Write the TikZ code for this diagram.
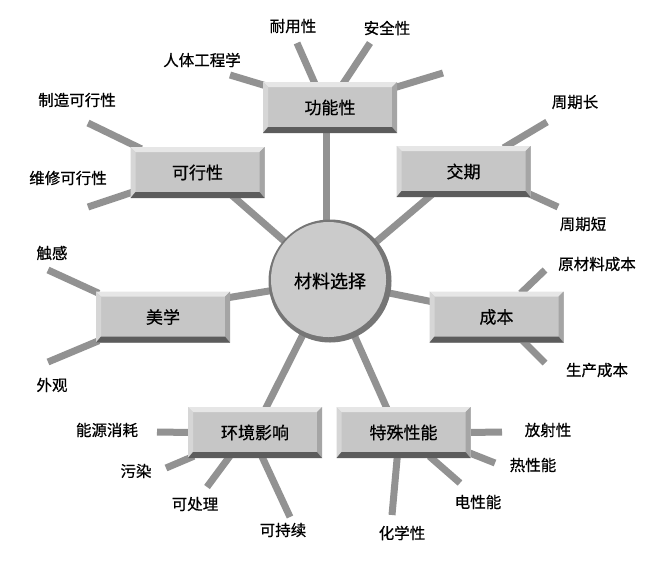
\documentclass[tikz,border=0pt]{standalone}
\usepackage{fontspec}
\setmainfont{Noto Sans CJK SC}[FakeBold=0.6]
\usetikzlibrary{calc}
\pgfdeclarelayer{bg}
\pgfsetlayers{bg,main}
\definecolor{linegray}{RGB}{146,146,146}
\definecolor{face}{RGB}{198,198,198}
\definecolor{bevtop}{RGB}{230,230,230}
\definecolor{bevleft}{RGB}{214,214,214}
\definecolor{bevright}{RGB}{165,165,165}
\definecolor{bevbot}{RGB}{92,92,92}
\definecolor{rim}{RGB}{118,118,118}
\definecolor{disc}{RGB}{203,203,203}
\tikzset{
  conn/.style={line width=7pt, draw=linegray},
  lbl/.style={font=\fontsize{15.5}{17}\selectfont, inner sep=1pt},
  bevbox/.style={minimum width=134pt, minimum height=51pt, inner sep=0pt, fill=face,
    font=\fontsize{17}{19}\selectfont,
    path picture={
      \path (path picture bounding box.north west) coordinate (pnw)
            (path picture bounding box.north east) coordinate (pne)
            (path picture bounding box.south west) coordinate (psw)
            (path picture bounding box.south east) coordinate (pse);
      \fill[bevtop] (pnw) -- (pne) -- ($(pne)+(-5pt,-5pt)$) -- ($(pnw)+(5pt,-5pt)$) -- cycle;
      \fill[bevleft] (pnw) -- ($(pnw)+(5pt,-5pt)$) -- ($(psw)+(5pt,6pt)$) -- (psw) -- cycle;
      \fill[bevright] (pne) -- (pse) -- ($(pse)+(-5pt,6pt)$) -- ($(pne)+(-5pt,-5pt)$) -- cycle;
      \fill[bevbot] (psw) -- ($(psw)+(5pt,6pt)$) -- ($(pse)+(-5pt,6pt)$) -- (pse) -- cycle;
    }},
  hub/.style={circle, minimum size=123pt, inner sep=0pt, fill=rim,
    font=\fontsize{18}{20}\selectfont,
    path picture={
      \fill[disc] ($(path picture bounding box.center)+(-1.5pt,1.5pt)$) circle (57.5pt);
    }}
}
\begin{document}
\begin{tikzpicture}[x=1pt,y=-1pt]
\begin{pgfonlayer}{bg}
\fill[white] (0,0) rectangle (668,562);
\end{pgfonlayer}
\useasboundingbox (0,0) rectangle (668,562);

% hub and boxes
\node[hub] (c) at (330,281) {材料选择};
\node[bevbox] (fn) at (330,107.5) {功能性};
\node[bevbox] (kx) at (197.5,172.5) {可行性};
\node[bevbox] (jq) at (463.5,171.5) {交期};
\node[bevbox] (mx) at (163,317) {美学};
\node[bevbox] (cb) at (496.5,317) {成本};
\node[bevbox] (hj) at (255,432.5) {环境影响};
\node[bevbox] (ts) at (403.5,432.5) {特殊性能};

% labels
\node[lbl] (l1) at (202,60) {人体工程学};
\node[lbl] (l2) at (293,26) {耐用性};
\node[lbl] (l3) at (387,28) {安全性};
\node[lbl] (l4) at (77,100) {制造可行性};
\node[lbl] (l5) at (68,178) {维修可行性};
\node[lbl] (l6) at (575,102) {周期长};
\node[lbl] (l7) at (583,224) {周期短};
\node[lbl] (l8) at (52,253) {触感};
\node[lbl] (l9) at (52,385) {外观};
\node[lbl] (l10) at (597,264) {原材料成本};
\node[lbl] (l11) at (597,370) {生产成本};
\node[lbl] (l12) at (107,430) {能源消耗};
\node[lbl] (l13) at (136,471) {污染};
\node[lbl] (l14) at (195,504) {可处理};
\node[lbl] (l15) at (283,530) {可持续};
\node[lbl] (l16) at (548,430) {放射性};
\node[lbl] (l17) at (533,465) {热性能};
\node[lbl] (l18) at (478,502) {电性能};
\node[lbl] (l19) at (402,533) {化学性};

% free ends of the branch lines
\coordinate (e1) at (230,75);
\coordinate (e2) at (297,43);
\coordinate (e3) at (370,43);
\coordinate (e4) at (443,73);
\coordinate (e5) at (88,123);
\coordinate (e6) at (88,207);
\coordinate (e7) at (547,122);
\coordinate (e8) at (558,207);
\coordinate (e9) at (48,270);
\coordinate (e10) at (48,362);
\coordinate (e11) at (545,270);
\coordinate (e12) at (545,363);
\coordinate (e13) at (157,432);
\coordinate (e14) at (166,468);
\coordinate (e15) at (207,487);
\coordinate (e16) at (290,517);
\coordinate (e17) at (502,432);
\coordinate (e18) at (495,463);
\coordinate (e19) at (460,483);
\coordinate (e20) at (392,515);
\coordinate (cf) at ($(c.center)+(-4,0)$);

\begin{pgfonlayer}{bg}
% spokes to the hub
\draw[conn] ($(fn.south)+(-4,-4)$) -- (cf);
\draw[conn] ($(kx.south east)+(-33,-3)$) -- (c.center);
\draw[conn] ($(jq.south west)+(36,-3)$) -- (c.center);
\draw[conn] ($(mx.east)+(-4,-19)$) -- (c.center);
\draw[conn] ($(cb.west)+(4,-15)$) -- (c.center);
\draw[conn] ($(hj.north)+(10,3)$) -- (c.center);
\draw[conn] ($(ts.north)+(-16,3)$) -- (c.center);
% branches
\draw[conn] (e1) -- ($(fn.north west)+(3,4)$);
\draw[conn] (e2) -- ($(fn.north)+(-15,2)$);
\draw[conn] (e3) -- ($(fn.north)+(13,2)$);
\draw[conn] (e4) -- ($(fn.north east)+(-3,6)$);
\draw[conn] (e5) -- ($(kx.north west)+(11,2)$);
\draw[conn] (e6) -- ($(kx.south west)+(2,-6)$);
\draw[conn] (e7) -- ($(jq.north east)+(-27,2)$);
\draw[conn] (e8) -- ($(jq.south east)+(-3,-4)$);
\draw[conn] (e9) -- ($(mx.north west)+(3,2)$);
\draw[conn] (e10) -- ($(mx.south west)+(3,-2)$);
\draw[conn] (e11) -- ($(cb.north east)+(-43,2)$);
\draw[conn] (e12) -- ($(cb.south east)+(-41,-2)$);
\draw[conn] (e13) -- ($(hj.west)+(3,0)$);
\draw[conn] (e14) -- ($(hj.south west)+(6,-2)$);
\draw[conn] (e15) -- ($(hj.south west)+(42,-2)$);
\draw[conn] (e16) -- ($(hj.south west)+(74,-2)$);
\draw[conn] (e17) -- ($(ts.east)+(-3,0)$);
\draw[conn] (e18) -- ($(ts.south east)+(-3,-6)$);
\draw[conn] (e19) -- ($(ts.south west)+(93,-2)$);
\draw[conn] (e20) -- ($(ts.south west)+(61,-2)$);
\end{pgfonlayer}
\end{tikzpicture}
\end{document}
